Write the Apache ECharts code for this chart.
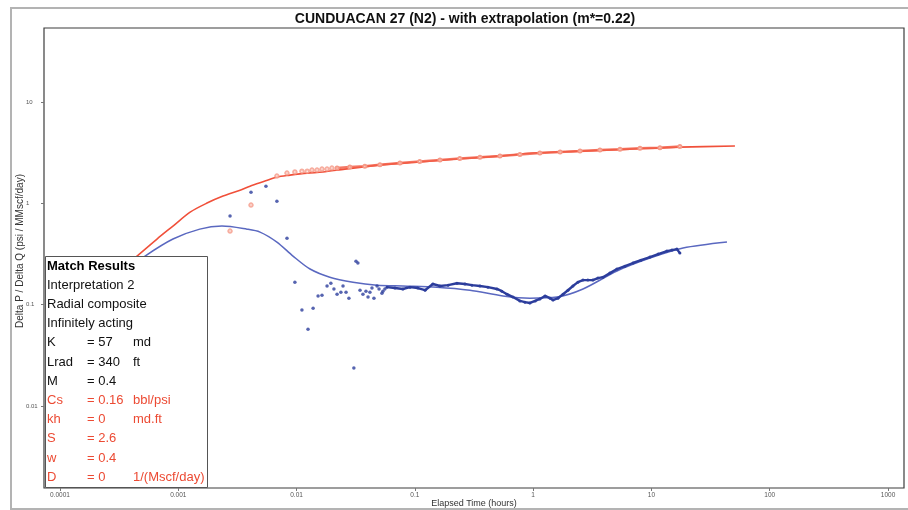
<!DOCTYPE html>
<html><head><meta charset="utf-8">
<script src="https://cdn.jsdelivr.net/npm/echarts@6/dist/echarts.min.js"></script>
<style>html,body{margin:0;padding:0;background:#fff}#c{width:908px;height:510px}</style>
</head><body><div id="c"></div>
<script>
const titleText = 'CUNDUACAN 27 (N2) - with extrapolation (m*=0.22)';
const xAxisTitle = 'Elapsed Time (hours)';
const yAxisTitle = 'Delta P / Delta Q (psi / MMscf/day)';
const xTickLabels = ['0.0001','0.001','0.01','0.1','1','10','100','1000'];
const yTickLabels = ['0.01','0.1','1','10'];

// Pressure model (red line)
const pressureModelTime = [2.18e-4,3.21e-4,4.48e-4,6.61e-4,9.02e-4,1.26e-3,1.75e-3,2.39e-3,3.33e-3,4.04e-3,5.41e-3,6.82e-3,8.79e-3,0.0123,0.0167,0.0256,0.0417,0.0617,0.110,0.227,0.524,0.995,2.64,6.58,17.4,50.8];
const pressureModel     = [0.146,0.215,0.302,0.445,0.597,0.820,1.007,1.18,1.35,1.48,1.66,1.82,1.90,1.99,2.04,2.18,2.33,2.44,2.56,2.74,2.93,3.14,3.28,3.43,3.59,3.68];

// Derivative model (blue line)
const derivModelTime = [2.18e-4,3.21e-4,5.24e-4,9.02e-4,1.52e-3,2.34e-3,3.81e-3,4.91e-3,6.82e-3,9.33e-3,0.0130,0.0191,0.0300,0.0479,0.0792,0.154,0.292,0.556,0.940,1.59,2.64,5.11,9.71,18.5,43.5];
const derivModel     = [0.136,0.196,0.302,0.445,0.557,0.597,0.557,0.521,0.415,0.302,0.225,0.187,0.167,0.156,0.153,0.149,0.139,0.122,0.116,0.119,0.143,0.215,0.288,0.362,0.415];

// Pressure data (red points): early sparse, then dense
const pressureEarlyTime = [2.74e-3,4.12e-3,6.82e-3,8.30e-3,9.68e-3,0.0111,0.0123,0.0135,0.0149,0.0164,0.0181,0.0199];
const pressureEarly     = [0.533,0.962,1.86,1.99,2.04,2.08,2.08,2.13,2.13,2.18,2.18,2.23];
const pressureLateTime = [0.0220,0.0282,0.0378,0.0507,0.0748,0.110,0.163,0.240,0.355,0.524,0.773,1.14,1.69,2.49,3.67,5.42,8.00,11.8,17.4];
const pressureLate     = [2.23,2.28,2.33,2.41,2.50,2.59,2.68,2.77,2.86,2.93,3.03,3.14,3.21,3.28,3.36,3.43,3.51,3.55,3.64];

// Derivative data (blue points): early sparse, then dense
const derivEarlyTime = [2.74e-3,4.12e-3,5.51e-3,6.82e-3,8.30e-3,9.68e-3,0.0111,0.0125,0.0138,0.0152,0.0164,0.0181,0.0195,0.0207,0.0220,0.0237,0.0247,0.0262,0.0277,0.0305,0.0318,0.0330,0.0344,0.0364,0.0386,0.0402,0.0417,0.0434,0.0451,0.0479,0.0498,0.0527,0.0537,0.0558];
const derivEarly     = [0.749,1.29,1.48,1.05,0.454,0.167,0.0885,0.0574,0.0925,0.122,0.124,0.153,0.163,0.143,0.127,0.133,0.153,0.133,0.116,0.0237,0.269,0.258,0.139,0.127,0.136,0.119,0.133,0.146,0.116,0.153,0.143,0.130,0.136,0.143];
const derivLateTime = [0.0581,0.0679,0.0792,0.0910,0.106,0.122,0.142,0.163,0.191,0.227,0.265,0.304,0.355,0.415,0.494,0.544,0.601,0.675,0.773,0.853,0.940,1.04,1.14,1.26,1.39,1.47,1.62,1.79,1.97,2.17,2.39,2.64,2.90,3.20,3.53,3.89,4.46,5.11,5.97,6.98,8.15,9.71,11.4,13.5,14.9,16.4,17.4];
const derivLate     = [0.149,0.146,0.143,0.149,0.146,0.139,0.160,0.153,0.156,0.163,0.160,0.156,0.153,0.149,0.143,0.136,0.127,0.119,0.109,0.106,0.104,0.109,0.114,0.122,0.116,0.111,0.116,0.127,0.139,0.153,0.167,0.175,0.175,0.175,0.183,0.187,0.205,0.225,0.240,0.258,0.275,0.295,0.316,0.338,0.346,0.354,0.323];

// Match results panel
const matchTitle = 'Match Results';
const matchInfo = ['Interpretation 2','Radial composite','Infinitely acting'];
const matchNames = ['K','Lrad','M','Cs','kh','S','w','D'];
const matchValues = ['= 57','= 340','= 0.4','= 0.16','= 0','= 2.6','= 0.4','= 0'];
const matchUnits = ['md','ft','','bbl/psi','md.ft','','','1/(Mscf/day)'];
const matchIsRed = [false,false,false,true,true,true,true,true];

const zip = (a,b) => a.map((v,i)=>[v,b[i]]);

const RED = '#f0503a', RED_PT = '#f59a88', BLUE = '#5a68c0', BLUE_PT = '#2c3d9c';
const FONT = '"Liberation Sans", Arial, sans-serif';

function decadeLabel(labels, offset){
  return function(v){
    const l = Math.log10(v), r = Math.round(l);
    if (Math.abs(l-r) > 0.01) return '';
    return labels[r+offset] ?? '';
  };
}

const chart = echarts.init(document.getElementById('c'), null, {renderer:'canvas'});

// Panel graphics
const lh = 19.2, px = 47, py0 = 266, PZ = 100;
const panelEls = [{type:'rect', z:PZ, shape:{x:45.5, y:256.5, width:162, height:231}, style:{fill:'#fff', stroke:'#555', lineWidth:1}}];
panelEls.push({type:'text', z:PZ+1, x:px, y:py0, style:{text:matchTitle, font:'bold 13px '+FONT, fill:'#000', textVerticalAlign:'middle'}});
matchInfo.forEach((t,i)=>panelEls.push({type:'text', z:PZ+1, x:px, y:py0+lh*(i+1), style:{text:t, font:'13px '+FONT, fill:'#111', textVerticalAlign:'middle'}}));
matchNames.forEach((n,i)=>{
  const y = py0 + lh*(i+4);
  const fill = matchIsRed[i] ? '#ec4a33' : '#111';
  panelEls.push({type:'text', z:PZ+1, x:px, y, style:{text:n, font:'13px '+FONT, fill, textVerticalAlign:'middle'}});
  panelEls.push({type:'text', z:PZ+1, x:87, y, style:{text:matchValues[i], font:'13px '+FONT, fill, textVerticalAlign:'middle'}});
  panelEls.push({type:'text', z:PZ+1, x:133, y, style:{text:matchUnits[i], font:'13px '+FONT, fill, textVerticalAlign:'middle'}});
});

const option = {
  backgroundColor:'#fff',
  animation:false,
  grid:{left:44, right:4, top:28, bottom:22, show:true, borderColor:'#3c3c3c', borderWidth:1.2, backgroundColor:'#fff', containLabel:false, outerBoundsMode:'none'},
  xAxis:{
    type:'log', logBase:10, min:Math.pow(10,-4.135), max:Math.pow(10,3.135),
    name:xAxisTitle, nameLocation:'middle', nameGap:11, nameMoveOverlap:false,
    nameTextStyle:{fontSize:9, color:'#333', fontFamily:FONT, verticalAlign:'top'},
    axisLine:{show:false},
    axisTick:{show:true, length:3, inside:false, lineStyle:{color:'#777'}},
    minorTick:{show:false},
    splitLine:{show:false},
    axisLabel:{fontSize:6.5, color:'#555', margin:4, fontFamily:FONT, showMinLabel:false, showMaxLabel:false, formatter:decadeLabel(xTickLabels,4)}
  },
  yAxis:{
    type:'log', logBase:10, min:Math.pow(10,-2.809), max:Math.pow(10,1.731),
    name:yAxisTitle, nameLocation:'middle', nameGap:19, nameRotate:90, nameMoveOverlap:false,
    nameTextStyle:{fontSize:10, color:'#333', fontFamily:FONT, padding:[0,0,0,14]},
    axisLine:{show:false},
    axisTick:{show:true, length:3, lineStyle:{color:'#777'}},
    splitLine:{show:false},
    axisLabel:{fontSize:6, color:'#555', margin:18, align:'left', fontFamily:FONT, showMinLabel:false, showMaxLabel:false, formatter:decadeLabel(yTickLabels,2)}
  },
  series:[
    {type:'line', data:zip(pressureModelTime,pressureModel), showSymbol:false, smooth:0.3, lineStyle:{color:RED, width:1.6}, z:2},
    {type:'line', data:zip(derivModelTime,derivModel), showSymbol:false, smooth:0.3, lineStyle:{color:BLUE, width:1.5}, z:2},
    {type:'scatter', data:zip(pressureEarlyTime,pressureEarly), symbol:'emptyCircle', symbolSize:3.5, itemStyle:{color:RED_PT, borderColor:RED_PT, borderWidth:1}, z:3},
    {type:'line', data:zip(pressureLateTime,pressureLate), symbol:'emptyCircle', symbolSize:3, showSymbol:true, lineStyle:{color:'#f2604a', width:2.5, opacity:0.85}, itemStyle:{color:RED_PT, borderColor:'#f27a66'}, z:3},
    {type:'scatter', data:zip(derivEarlyTime,derivEarly), symbol:'circle', symbolSize:3.5, itemStyle:{color:BLUE_PT}, z:4},
    {type:'line', data:zip(derivLateTime,derivLate), symbol:'circle', symbolSize:3, showSymbol:true, lineStyle:{color:BLUE_PT, width:2.4}, itemStyle:{color:BLUE_PT}, z:4}
  ],
  graphic:[
    {type:'polyline', z:90, shape:{points:[[908,8],[11,8],[11,509],[908,509]]}, style:{stroke:'#b3b3b3', lineWidth:2, fill:null}},
    {type:'text', z:90, x:465, y:19, style:{text:titleText, font:'bold 14px "Liberation Sans Narrow", "Liberation Sans", Arial, sans-serif', fill:'#111', textAlign:'center', textVerticalAlign:'middle'}},
    ...panelEls
  ]
};
chart.setOption(option);
</script>
</body></html>
